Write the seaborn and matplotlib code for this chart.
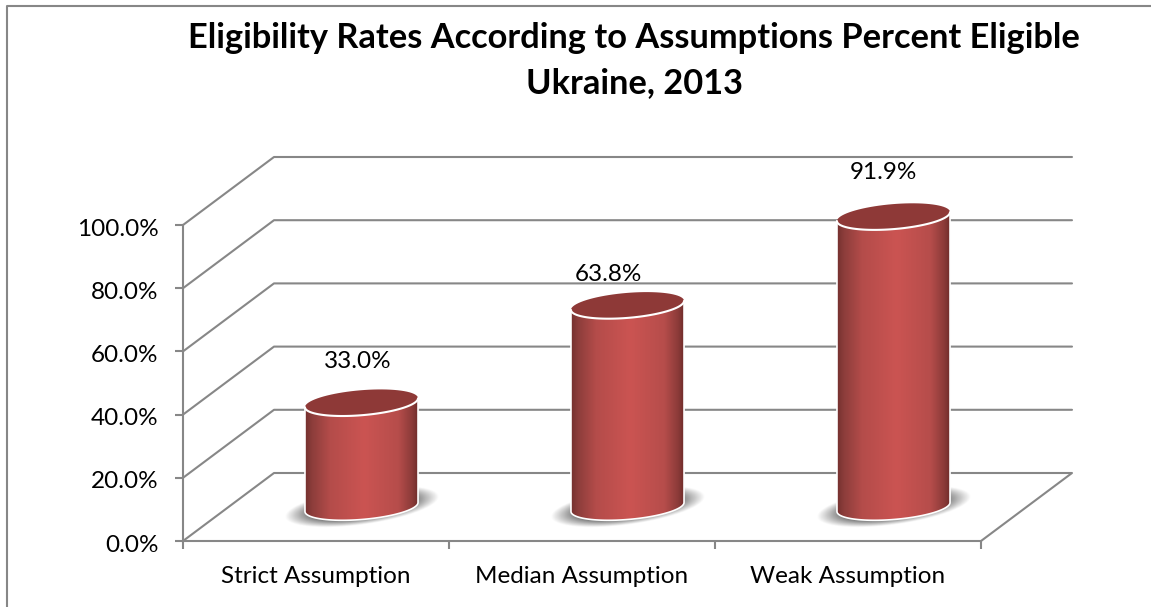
import numpy as np
import matplotlib
matplotlib.use("Agg")
import matplotlib.pyplot as plt
import seaborn as sns
from matplotlib.colors import LinearSegmentedColormap
from matplotlib.lines import Line2D
from matplotlib.patches import Polygon
from matplotlib.transforms import ScaledTranslation

categories = ["Strict Assumption", "Median Assumption", "Weak Assumption"]
eligible_pct = [33.0, 63.8, 91.9]
value_labels = ["33.0%", "63.8%", "91.9%"]
y_ticks = [0, 20, 40, 60, 80, 100]
y_tick_labels = ["0.0%", "20.0%", "40.0%", "60.0%", "80.0%", "100.0%"]
title = "Eligibility Rates According to Assumptions Percent Eligible\nUkraine, 2013"

# label nudges in points, the source chart places them by hand
label_nudge = [(-3, 30), (-14, 22), (-7, 32)]

W, H = 1151, 607
DPI = 100
GREY = "#878787"
TEXT_SIZE = 17.5
# depth of the fake 3d box in data units
DEPTH_X = 91 / 266.0
DEPTH_Y = 68 / 3.16
BAR_WIDTH = 0.425
CAP_B = 3.96
CAP_S = 1.42

sns.set_theme(style="white")
plt.rcParams["font.family"] = ["Lato", "DejaVu Sans"]

cyl_cmap = LinearSegmentedColormap.from_list("cyl", [
    (0.0, "#74302e"), (0.06, "#8c3d3b"), (0.22, "#b44c4a"), (0.52, "#cb5452"),
    (0.82, "#b64d4b"), (0.94, "#8c3b39"), (1.0, "#6c2b29")])


def arc(cx, cy, a, t0, t1):
    t = np.linspace(t0, t1, 80)
    return cx + a * np.cos(t), cy + CAP_S * np.cos(t) + CAP_B * np.sin(t)


def draw_shadow(ax, cx, cy, a):
    # soft grey blob under the cylinder
    sx, sy = a * 1.36, 9.5
    xs = np.linspace(-1.1, 1.1, 200)
    ys = np.linspace(-1.1, 1.1, 100)
    xx, yy = np.meshgrid(xs, ys)
    rr = np.sqrt(xx ** 2 + (yy - 0.33 * xx) ** 2 / 0.36)
    rgba = np.zeros(xx.shape + (4,))
    rgba[..., :3] = 0.42
    rgba[..., 3] = np.clip((1 - rr) / 0.3, 0, 1) * 0.85
    im = ax.imshow(rgba, extent=(cx - 1.1 * sx, cx + 1.1 * sx, cy - 1.1 * sy, cy + 1.1 * sy),
                   origin="lower", aspect="auto", zorder=3, interpolation="bilinear")
    im.set_clip_box(ax.figure.bbox)


def draw_cylinder(ax, bar):
    a = bar.get_width() / 2
    cx = bar.get_x() + a + DEPTH_X / 2
    base = DEPTH_Y / 2
    top = base + bar.get_height()
    draw_shadow(ax, cx, base, a)
    bx, by = arc(cx, base, a, np.pi, 2 * np.pi)
    tx, ty = arc(cx, top, a, 2 * np.pi, np.pi)
    body = Polygon(np.column_stack([np.r_[bx, tx], np.r_[by, ty]]), closed=True,
                   facecolor="none", edgecolor="none", zorder=4)
    ax.add_patch(body)
    grad = np.linspace(0, 1, 256).reshape(1, -1)
    im = ax.imshow(grad, cmap=cyl_cmap, extent=(cx - a, cx + a, base - 6, top + 6),
                   aspect="auto", zorder=4, interpolation="bilinear")
    im.set_clip_box(ax.figure.bbox)
    im.set_clip_path(body)
    # white rim round the body
    ax.plot(np.r_[tx[-1], bx, tx[0]], np.r_[ty[-1], by, ty[0]], color="white", lw=1.2,
            zorder=5, clip_on=False)
    cx_all, cy_all = arc(cx, top, a, 0, 2 * np.pi)
    ax.add_patch(Polygon(np.column_stack([cx_all, cy_all]), closed=True, facecolor="#8e3937",
                         edgecolor="none", zorder=6, clip_on=False))
    ax.plot(tx, ty, color="white", lw=1.5, zorder=7, clip_on=False)
    return cx, top


fig = plt.figure(figsize=(W / DPI, H / DPI), dpi=DPI, facecolor="white")
ax = fig.add_axes([183 / W, (H - 541) / H, 798 / W, 316 / H])

sns.barplot(x=categories, y=eligible_pct, ax=ax, width=BAR_WIDTH, color="#c0504d", saturation=1)
bars = list(ax.patches)
xlim = (-0.5, 2.5)
ylim = (0, 100)

# walls of the box
for v in y_ticks[1:]:
    ax.plot([xlim[0], xlim[0] + DEPTH_X, xlim[1] + DEPTH_X], [v, v + DEPTH_Y, v + DEPTH_Y],
            color=GREY, lw=1.5, zorder=1, clip_on=False)
ax.plot([xlim[0], xlim[0] + DEPTH_X, xlim[1] + DEPTH_X, xlim[1]],
        [0, DEPTH_Y, DEPTH_Y, 0], color=GREY, lw=1.5, zorder=1, clip_on=False)

for bar, label, nudge in zip(bars, value_labels, label_nudge):
    bar.set_visible(False)
    cx, top = draw_cylinder(ax, bar)
    ax.annotate(label, (cx, top), xytext=nudge, textcoords="offset points", ha="center",
                va="center", fontsize=TEXT_SIZE, color="black", zorder=8, annotation_clip=False)

ax.set_xlim(*xlim)
ax.set_ylim(*ylim)
ax.patch.set_visible(False)
sns.despine(ax=ax)
for side in ["left", "bottom"]:
    ax.spines[side].set_color(GREY)
    ax.spines[side].set_linewidth(1.5)

ax.set_yticks(y_ticks)
ax.set_yticklabels(y_tick_labels, fontsize=TEXT_SIZE, color="black")
ax.set_xticks(range(len(categories)))
ax.set_xticklabels(categories, fontsize=TEXT_SIZE, color="black")
ax.set_xticks([-0.5, 0.5, 1.5, 2.5], minor=True)
ax.tick_params(axis="x", which="major", length=0, pad=18, bottom=False)
ax.tick_params(axis="x", which="minor", length=5.5, width=1.5, color=GREY, bottom=True)
ax.tick_params(axis="y", length=5.5, width=1.5, color=GREY, pad=12, left=True)
# y labels sit a touch low in the source
shift = ScaledTranslation(0, -1.5 / 72, fig.dpi_scale_trans)
for tick_label in ax.get_yticklabels():
    tick_label.set_transform(tick_label.get_transform() + shift)

fig.text(634 / W, 1 - 61 / H, title, ha="center", va="center", fontsize=24.75, fontweight="bold",
         color="black", linespacing=1.5)

# outer chart frame, right and bottom run off the crop
fig.add_artist(Line2D([7 / W, 7 / W, 1], [0, 1 - 6 / H, 1 - 6 / H], color=GREY, lw=1.5))

fig.savefig("out.png", dpi=DPI)
